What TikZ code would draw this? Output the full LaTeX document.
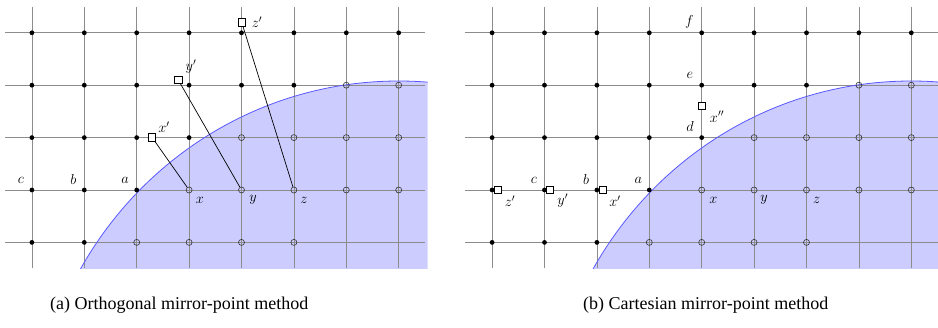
\documentclass[tikz,border=0pt]{standalone}
\usepackage{fontspec}
\newfontfamily\capfont{Liberation Serif}
\begin{document}
\begin{tikzpicture}[x=1pt,y=1pt,
  gridline/.style={black!45, line width=0.8pt},
  region/.style={fill=blue!20},
  bound/.style={blue!65, line width=0.8pt},
  outpt/.style={circle, fill=black, inner sep=0pt, minimum size=4.8pt},
  inpt/.style={circle, draw=black!80, line width=0.6pt, inner sep=0pt, minimum size=6pt},
  mirror/.style={rectangle, draw=black, fill=white, line width=0.7pt, inner sep=0pt, minimum size=7.5pt},
  mline/.style={black, line width=0.7pt},
  lab/.style={font=\fontsize{14}{16}\selectfont, inner sep=0pt},
  captext/.style={font=\capfont\fontsize{18}{20}\selectfont, anchor=west, inner sep=0pt}]
\useasboundingbox (0,0) rectangle (938,-328);

% ---------------- left panel ----------------
\begin{scope}[shift={(136.7,-190)}, x=52.4pt, y=52.4pt]
  \begin{scope}
    \clip (-2.52,-1.49) rectangle (5.55,3.49);
    \fill[region] (5,-5) ellipse [x radius=6.98, y radius=7.08];
  \end{scope}
  \foreach \i in {-2,...,5} \draw[gridline] (\i,-1.49) -- (\i,3.49);
  \foreach \j in {-1,...,3} \draw[gridline] (-2.513,\j) -- (5.50,\j);
  \begin{scope}
    \clip (-2.52,-1.49) rectangle (5.55,3.49);
    \draw[bound] (5,-5) ellipse [x radius=6.98, y radius=7.08];
  \end{scope}
  \foreach \i in {-2,...,5} \node[outpt] (La\i) at (\i,3) {};
  \foreach \i in {-2,...,3} \node[outpt] (Lb\i) at (\i,2) {};
  \foreach \i in {4,5} \node[inpt] (Lb\i) at (\i,2) {};
  \foreach \i in {-2,...,1} \node[outpt] (Lc\i) at (\i,1) {};
  \foreach \i in {2,...,5} \node[inpt] (Lc\i) at (\i,1) {};
  \foreach \i in {-2,...,0} \node[outpt] (Ld\i) at (\i,0) {};
  \foreach \i in {1,...,5} \node[inpt] (Ld\i) at (\i,0) {};
  \foreach \i in {-2,-1} \node[outpt] (Le\i) at (\i,-1) {};
  \foreach \i in {0,...,3} \node[inpt] (Le\i) at (\i,-1) {};
\end{scope}
\node[mirror] (Lxp) at (152,-137.3) {};
\node[mirror] (Lyp) at (178.3,-80) {};
\node[mirror] (Lzp) at (241.7,-22.3) {};
\draw[mline] (Lxp.center) -- (Ld1);
\draw[mline] (Lyp.center) -- (Ld2);
\draw[mline] (Lzp.center) -- (Ld3);
\node[mirror] at (Lxp) {};
\node[mirror] at (Lyp) {};
\node[mirror] at (Lzp) {};
\node[lab] (Llc) at (21,-180) {$c$};
\node[lab] (Llb) at (73.3,-180) {$b$};
\node[lab] (Lla) at (125,-180) {$a$};
\node[lab] (Llx) at (200,-200) {$x$};
\node[lab] (Lly) at (253,-200) {$y$};
\node[lab] (Llz) at (304,-200) {$z$};
\node[lab] (Llxp) at (164,-127) {$x'$};
\node[lab] (Llyp) at (191,-66.7) {$y'$};
\node[lab] (Llzp) at (257,-22.3) {$z'$};

% ---------------- right panel ----------------
\begin{scope}[shift={(649.3,-190)}, x=52.4pt, y=52.4pt]
  \begin{scope}
    \clip (-3.52,-1.49) rectangle (5.52,3.49);
    \fill[region] (5,-5) ellipse [x radius=6.98, y radius=7.08];
  \end{scope}
  \foreach \i in {-3,...,5} \draw[gridline] (\i,-1.49) -- (\i,3.49);
  \foreach \j in {-1,...,3} \draw[gridline] (-3.517,\j) -- (5.51,\j);
  \begin{scope}
    \clip (-3.52,-1.49) rectangle (5.52,3.49);
    \draw[bound] (5,-5) ellipse [x radius=6.98, y radius=7.08];
  \end{scope}
  \foreach \i in {-3,...,5} \node[outpt] (Ra\i) at (\i,3) {};
  \foreach \i in {-3,...,3} \node[outpt] (Rb\i) at (\i,2) {};
  \foreach \i in {4,5} \node[inpt] (Rb\i) at (\i,2) {};
  \foreach \i in {-3,...,1} \node[outpt] (Rc\i) at (\i,1) {};
  \foreach \i in {2,...,5} \node[inpt] (Rc\i) at (\i,1) {};
  \foreach \i in {-3,...,0} \node[outpt] (Rd\i) at (\i,0) {};
  \foreach \i in {1,...,5} \node[inpt] (Rd\i) at (\i,0) {};
  \foreach \i in {-3,...,-1} \node[outpt] (Re\i) at (\i,-1) {};
  \foreach \i in {0,...,3} \node[inpt] (Re\i) at (\i,-1) {};
\end{scope}
\node[mirror] (Rzp) at (497.7,-190) {};
\node[mirror] (Ryp) at (550,-190) {};
\node[mirror] (Rxp) at (603,-190) {};
\node[mirror] (Rxpp) at (701.7,-106) {};
\node[lab] (Rlc) at (534,-180) {$c$};
\node[lab] (Rlb) at (586,-180) {$b$};
\node[lab] (Rla) at (638.3,-180) {$a$};
\node[lab] (Rlzp) at (510,-201) {$z'$};
\node[lab] (Rlyp) at (562.7,-201) {$y'$};
\node[lab] (Rlxp) at (615,-201) {$x'$};
\node[lab] (Rlx) at (713.3,-200) {$x$};
\node[lab] (Rly) at (764,-200) {$y$};
\node[lab] (Rlz) at (816.7,-200) {$z$};
\node[lab] (Rld) at (690,-126.7) {$d$};
\node[lab] (Rle) at (690,-75) {$e$};
\node[lab] (Rlf) at (689.3,-21.7) {$f$};
\node[lab] (Rlxpp) at (717,-116.7) {$x''$};

% captions
\node[captext] (capa) at (50,-305) {(a) Orthogonal mirror-point method};
\node[captext] (capb) at (583,-305) {(b) Cartesian mirror-point method};
\end{tikzpicture}
\end{document}
